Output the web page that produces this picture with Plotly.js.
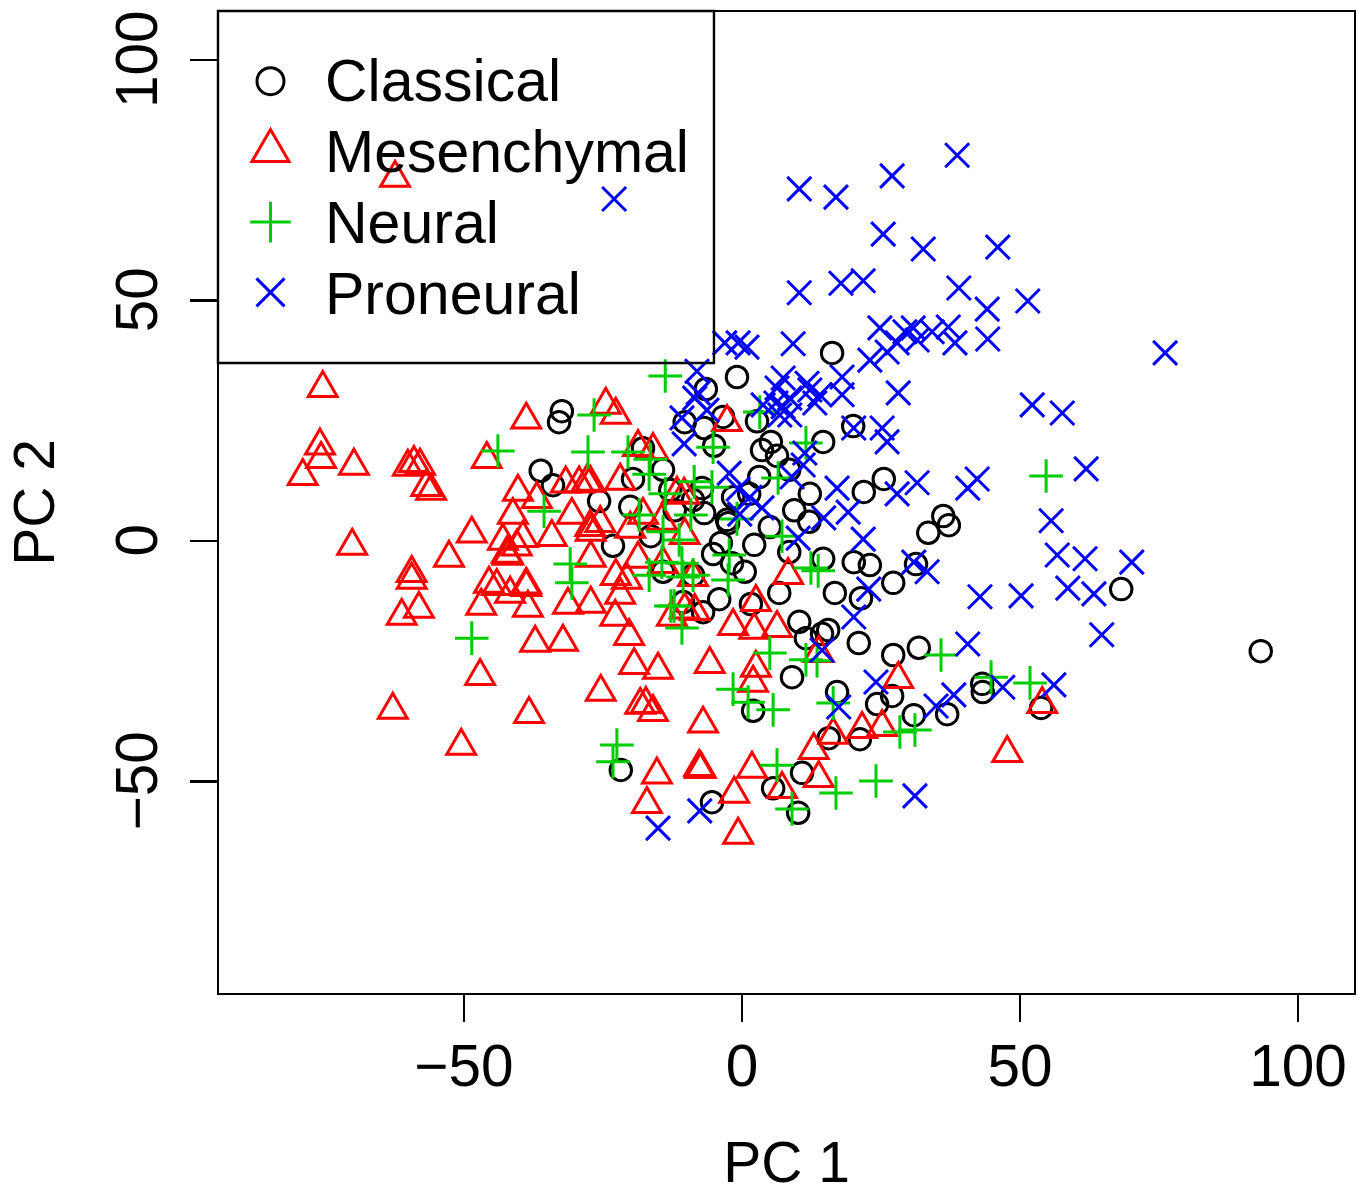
<!DOCTYPE html>
<html>
<head>
<meta charset="utf-8">
<script src="https://cdn.plot.ly/plotly-3.0.1.min.js"></script>
<style>html,body{margin:0;padding:0;background:#fff}</style>
</head>
<body>
<div id="chart" style="width:1369px;height:1194px"></div>
<script>
const classicalX = [-32.4,-32.9,-36.2,-34.0,-25.7,-19.6,-20.1,-23.2,-16.4,-17.8,-14.2,-12.9,-12.1,-7.2,-8.8,-6.8,-2.7,-2.5,-3.8,-5.2,-1.8,0.5,2.2,-1.6,1.3,-14.2,-8.8,-10.6,-7.0,-4.1,1.6,6.7,-6.5,-0.9,-10.3,-6.8,-3.4,2.7,-5.0,5.2,3.6,6.3,14.6,20.0,16.2,25.5,21.9,12.2,9.4,12.1,8.5,3.1,5.0,8.5,14.6,20.1,23.0,31.3,33.5,36.2,37.2,27.2,21.4,16.7,10.3,11.5,14.4,15.5,21.0,27.2,31.8,17.1,24.3,27.0,30.9,36.9,43.2,43.3,53.8,15.6,21.2,10.8,9.0,2.0,-21.8,-5.4,5.6,10.1,68.2,93.3];
const classicalY = [27.0,24.7,14.6,11.6,8.3,12.9,7.1,-1.0,1.0,19.3,14.8,10.6,6.4,11.0,8.5,5.8,4.4,3.7,-0.4,-2.7,-4.6,-6.4,-0.8,9.1,9.8,-6.4,-7.1,-12.7,-14.8,-12.1,-13.1,-10.8,31.6,34.1,24.7,23.5,25.8,24.9,19.8,20.6,18.9,17.7,20.6,23.9,39.1,12.9,10.2,9.8,6.4,4.0,14.8,13.3,2.9,-2.3,-3.7,-4.4,-5.0,-4.8,1.7,5.2,3.3,-8.7,-11.9,-10.8,-16.8,-20.2,-19.3,-18.5,-21.2,-23.7,-22.2,-31.4,-33.9,-32.2,-36.2,-36.0,-29.7,-31.4,-34.7,-41.0,-41.2,-48.2,-28.3,-35.3,-47.6,-54.3,-51.4,-56.5,-10.0,-22.9];

const mesenchymalX = [-62.4,-75.4,-75.9,-75.7,-79.0,-69.8,-60.1,-59.0,-57.9,-56.8,-55.9,-70.1,-59.4,-59.4,-58.1,-61.2,-52.7,-48.6,-45.9,-38.8,-24.5,-22.7,-31.7,-29.3,-27.9,-27.3,-21.9,-40.3,-36.9,-41.2,-30.6,-25.5,-27.2,-27.3,-34.2,-43.0,-39.4,-40.5,-42.3,-42.1,-42.1,-27.2,-18.7,-18.7,-16.0,-17.8,-14.4,-20.1,-10.3,-11.7,-10.4,-14.2,-22.7,-20.7,-21.9,-45.5,-44.1,-41.7,-38.8,-38.8,-46.9,-38.5,-31.3,-27.2,-22.8,-20.3,-37.2,-32.2,-12.6,-10.3,-8.5,-1.6,2.2,6.3,-8.8,-2.7,8.3,2.5,-19.4,-15.1,-25.4,-18.3,-17.3,-16.0,-5.8,2.5,2.0,-7.0,-15.3,-17.1,-7.7,-7.6,-7.4,1.8,-1.4,7.2,-0.7,13.8,12.9,16.4,13.8,28.1,21.6,25.2,47.7,54.0,-47.1,-62.8,-38.3,-50.5];
const mesenchymalY = [75.5,31.8,19.8,17.0,13.5,15.6,15.4,16.2,15.6,11.2,10.4,-1.0,-6.7,-8.1,-14.1,-15.6,-3.5,1.5,17.0,25.2,28.3,26.2,11.9,11.9,12.3,12.1,12.5,10.2,8.7,5.4,5.4,3.7,1.9,2.9,0.8,0,0.6,-1.2,-2.7,-2.9,-3.1,-3.5,-3.7,19.5,18.9,5.4,4.2,2.5,1.2,9.8,9.6,-4.8,-7.3,-8.1,-11.2,-8.9,-9.4,-11.0,-9.1,-9.6,-13.5,-13.9,-13.3,-13.1,-15.8,-19.8,-21.2,-21.0,-15.8,-14.3,-14.6,-17.7,-18.5,-18.1,-7.5,24.7,-7.1,-12.7,-25.8,-26.8,-31.4,-34.1,-33.9,-35.6,-25.6,-26.4,-29.5,-38.0,-48.6,-54.7,-47.0,-47.4,-47.4,-47.4,-52.6,-51.6,-61.1,-49.3,-43.5,-40.3,-23.3,-28.7,-39.1,-38.7,-44.1,-33.9,-28.1,-35.1,-36.0,-42.6];

const neuralX = [-13.8,-26.6,-43.9,-27.7,-20.5,-16.5,-16.7,-13.8,-8.6,-5.4,-35.6,-18.5,-9.2,-14.2,-11.3,-2.3,-30.9,-30.6,-16.7,-14.4,-10.8,-10.6,-8.8,-2.5,-12.8,-12.2,-10.8,-48.6,-0.9,-5.2,3.2,11.5,6.5,7.2,12.4,13.7,5.0,11.5,13.5,-1.6,1.1,5.6,16.4,-22.5,-23.2,6.3,9.0,16.9,35.8,44.8,51.8,28.4,31.1,24.1,54.7];
const neuralY = [34.3,26.2,18.7,18.5,18.5,17.0,13.9,9.8,12.3,11.2,6.2,5.4,5.4,1.9,0.2,-2.9,-4.8,-8.7,-7.1,-4.4,-4.6,-7.5,-7.1,-8.1,-13.5,-13.5,-18.1,-20.2,4.6,19.5,26.8,20.4,13.1,1.0,-5.6,-6.2,-23.3,-24.7,-24.9,-30.8,-33.5,-35.1,-33.7,-42.4,-45.9,-46.6,-55.7,-52.4,-23.7,-28.3,-29.5,-39.7,-39.3,-49.9,13.5];

const proneuralX = [38.7,27.0,10.3,16.9,-23.0,25.4,32.6,46.0,10.3,17.8,21.8,39.0,44.1,51.4,44.2,38.3,37.1,34.2,24.8,30.8,29.3,27.9,31.5,26.1,23.0,9.2,-3.1,-0.7,0.9,76.1,52.2,57.6,-8.1,-7.9,-8.5,-6.3,-10.8,-10.4,7.4,6.3,3.8,6.1,7.4,8.6,6.8,8.6,12.2,11.7,14.0,13.1,18.0,18.0,28.1,20.1,25.2,26.1,11.3,11.0,9.0,-2.3,-0.7,1.4,3.6,-0.4,17.1,27.9,31.5,19.1,14.7,10.1,21.8,42.3,40.6,61.9,55.6,56.7,61.7,70.1,58.6,63.3,42.8,50.2,64.7,40.6,30.9,33.3,22.8,20.1,14.4,24.1,17.4,38.1,34.9,46.9,56.1,31.1,-15.1,-7.6];
const proneuralY = [80.2,75.9,73.2,71.5,71.1,63.8,60.7,61.1,51.6,53.6,54.1,52.6,48.2,49.9,42.0,41.2,44.5,43.5,44.3,44.3,43.5,41.2,41.8,39.3,37.6,41.0,41.2,41.2,40.3,39.1,28.3,26.6,35.3,30.8,29.7,27.2,25.6,20.2,33.9,31.8,28.3,28.7,27.9,29.7,26.2,26.2,31.4,32.8,30.4,28.7,34.1,30.4,30.8,23.5,23.5,20.6,18.3,15.8,13.3,14.1,10.8,9.1,6.9,5.6,11.0,9.8,12.1,6.0,4.8,0.6,0.4,12.9,11.0,15.0,4.2,-2.9,-3.7,-4.4,-9.8,-11.0,-11.6,-11.4,-19.5,-21.4,-4.4,-6.4,-10.0,-15.8,-22.7,-29.3,-34.5,-32.0,-34.3,-30.4,-29.9,-53.0,-59.7,-56.1];

const legendLabels = ['Classical','Mesenchymal','Neural','Proneural'];
const legendKeyX = -84.8;
const legendKeyY = [95.6,81.1,66.3,51.7];
const legendTextY = [0.9293,0.8573,0.7849,0.7125];
const xTicks = [-50,0,50,100];
const yTicks = [-50,0,50,100];
const xRange = [-94.06,110.07];
const yRange = [-93.97,109.98];

const GREEN = '#00CD00';
const LW = 3;

function series(name,x,y,symbol,color,size){
  return {type:'scatter',mode:'markers',name:name,x:x,y:y,showlegend:false,hoverinfo:'skip',
    marker:{symbol:symbol,size:size,color:color,line:{color:color,width:LW}}};
}
const syms = ['circle-open','triangle-up-open','cross-thin-open','x-thin-open'];
const cols = ['#000000','#FF0000',GREEN,'#0000FF'];
const sizes = [21.5,21,24,24];
const keySizes = [27,27,29,28];

const traces = [
  series('Classical',classicalX,classicalY,syms[0],cols[0],sizes[0]),
  series('Mesenchymal',mesenchymalX,mesenchymalY,syms[1],cols[1],sizes[1]),
  series('Neural',neuralX,neuralY,syms[2],cols[2],sizes[2]),
  series('Proneural',proneuralX,proneuralY,syms[3],cols[3],sizes[3])
];
legendLabels.forEach(function(n,i){
  traces.push(series(n+' key',[legendKeyX],[legendKeyY[i]],syms[i],cols[i],keySizes[i]));
});

const FONT = 'Liberation Sans, Arial, Helvetica, sans-serif';
const axisCommon = {
  showgrid:false,zeroline:false,showline:true,mirror:true,linecolor:'#000',linewidth:2.4,
  ticks:'outside',ticklen:27,tickwidth:2.2,tickcolor:'#000',tickmode:'array',
  tickfont:{family:FONT,size:58.5,color:'#000'},automargin:false
};
const layout = {
  width:1369,height:1194,paper_bgcolor:'#fff',plot_bgcolor:'#fff',showlegend:false,
  margin:{l:219,r:15,t:12,b:201},
  xaxis:Object.assign({},axisCommon,{range:xRange,tickvals:xTicks,tickangle:0,
    title:{text:'PC 1',font:{family:FONT,size:57,color:'#000'},standoff:44}}),
  yaxis:Object.assign({},axisCommon,{range:yRange,tickvals:yTicks,tickangle:-90,
    title:{text:'PC 2',font:{family:FONT,size:57,color:'#000'},standoff:40}}),
  shapes:[{type:'rect',xref:'paper',yref:'paper',x0:-0.0009,x1:0.4361,y0:0.6422,y1:1.001,
    line:{color:'#000',width:2.4},fillcolor:'rgba(0,0,0,0)',layer:'above'}],
  annotations:legendLabels.map(function(t,i){
    return {text:t,xref:'paper',yref:'paper',x:0.0925,y:legendTextY[i],xanchor:'left',yanchor:'middle',
      showarrow:false,font:{family:FONT,size:59,color:'#000'},borderpad:0};
  })
};
Plotly.newPlot('chart',traces,layout,{displayModeBar:false,staticPlot:true}).then(function(gd){
  // Plotly's triangle is squat; give the same points the equilateral outline of the original symbol.
  gd.querySelectorAll('.scatterlayer path.point').forEach(function(p){
    const m = /^M-([\d.]+),([\d.]+)H/.exec(p.getAttribute('d')||'');
    if(!m) return;
    const r = 2*parseFloat(m[2]);
    const R = r*1.02;
    p.setAttribute('d','M'+(-1.347*R)+','+(0.778*R)+'H'+(1.347*R)+'L0,'+(-1.555*R)+'Z');
    p.style.strokeMiterlimit = 10;
  });
  // Nudge the tick labels to where the reference sets them.
  gd.querySelectorAll('.xtick text').forEach(function(t){
    t.setAttribute('transform','translate(0,-7) '+(t.getAttribute('transform')||''));
  });
  gd.querySelectorAll('.ytick text').forEach(function(t){
    t.setAttribute('transform','translate(-9,8) '+(t.getAttribute('transform')||''));
  });
});
</script>
</body>
</html>
